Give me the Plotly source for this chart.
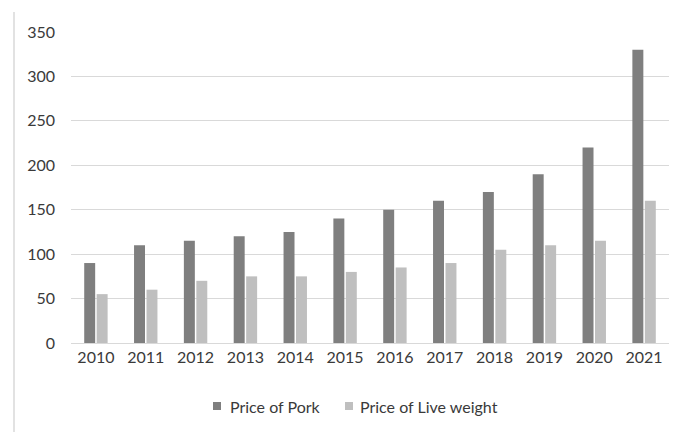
import plotly.graph_objects as go

years = ["2010", "2011", "2012", "2013", "2014", "2015",
         "2016", "2017", "2018", "2019", "2020", "2021"]
pork_price = [90, 110, 115, 120, 125, 140, 150, 160, 170, 190, 220, 330]
live_weight_price = [55, 60, 70, 75, 75, 80, 85, 90, 105, 110, 115, 160]
y_ticks = [0, 50, 100, 150, 200, 250, 300, 350]

series_names = ["Price of Pork", "Price of Live weight"]
series_colors = ["#7f7f7f", "#bfbfbf"]

font_family = "Lato, 'Open Sans', sans-serif"
text_color = "#3a3a3a"
grid_color = "#d9d9d9"

# plot area in pixels (left, right, top, bottom) used to place the legend
PL, PR, PT, PB = 71, 669, 32, 343


def px_x(px):
    return (px - PL) / (PR - PL)


def px_y(py):
    return (PB - py) / (PB - PT)


fig = go.Figure()
for name, vals, col in zip(series_names, [pork_price, live_weight_price], series_colors):
    fig.add_trace(go.Bar(x=years, y=vals, name=name,
                         marker=dict(color=col, line=dict(width=0))))

# legend drawn as swatches + labels below the plot
legend_items = [(213, 228), (345, 358)]
shapes = [dict(type="line", xref="paper", yref="paper",
               x0=px_x(14), x1=px_x(14), y0=px_y(12), y1=px_y(434),
               line=dict(color=grid_color, width=1.5))]
annotations = []
for (sx, tx), name, col in zip(legend_items, series_names, series_colors):
    shapes.append(dict(type="rect", xref="paper", yref="paper",
                       x0=px_x(sx), x1=px_x(sx + 8), y0=px_y(402), y1=px_y(410),
                       fillcolor=col, line=dict(width=0)))
    annotations.append(dict(text=name, xref="paper", yref="paper",
                            x=px_x(tx), y=px_y(406), xanchor="left",
                            yanchor="middle", showarrow=False,
                            font=dict(size=16, color=text_color)))

fig.update_layout(
    width=682, height=432,
    margin=dict(l=PL, r=682 - PR, t=PT, b=432 - PB),
    paper_bgcolor="white", plot_bgcolor="white",
    barmode="group", bargap=0.5, bargroupgap=0.12,
    font=dict(family=font_family, size=16, color=text_color),
    showlegend=False,
    xaxis=dict(showgrid=False, showline=True, linecolor=grid_color,
               linewidth=1, ticks="", tickfont=dict(size=16)),
    yaxis=dict(range=[0, 350], tickvals=y_ticks, showgrid=True,
               gridcolor=grid_color, gridwidth=1, zeroline=False,
               showline=False, ticks="", ticklabelstandoff=15,
               tickfont=dict(size=16)),
    shapes=shapes,
    annotations=annotations,
)

fig.write_html("out.html")
